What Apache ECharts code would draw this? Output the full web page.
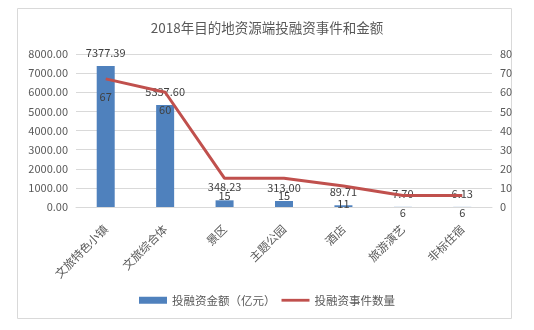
<!DOCTYPE html>
<html><head><meta charset="utf-8">
<script src="https://cdn.jsdelivr.net/npm/echarts@6/dist/echarts.min.js"></script>
<style>html,body{margin:0;padding:0;background:#fff}#c{width:534px;height:330px}</style>
</head><body><div id="c"></div>
<script>
const categories = ['文旅特色小镇','文旅综合体','景区','主题公园','酒店','旅游演艺','非标住宿'];
const amounts = [7377.39, 5337.60, 348.23, 313.00, 89.71, 7.70, 6.13];
const counts = [67, 60, 15, 15, 11, 6, 6];
const leftTicks = {min:0, max:8000, interval:1000};
const rightTicks = {min:0, max:80, interval:10};
const FONT = '"Noto Sans CJK SC", "Microsoft YaHei", sans-serif';
const chart = echarts.init(document.getElementById('c'), null, {renderer:'canvas'});
chart.setOption({
  animation:false,
  textStyle:{fontFamily:FONT},
  graphic:[{type:'rect', shape:{x:17.5,y:8.5,width:494,height:310}, style:{fill:'none', stroke:'#D9D9D9', lineWidth:1}, silent:true}],
  title:{text:'2018年目的地资源端投融资事件和金额', left:'center', top:16, textStyle:{fontSize:13.5, fontWeight:'normal', color:'#595959', fontFamily:FONT}},
  legend:{bottom:19, itemGap:6, itemWidth:28, itemHeight:7, textStyle:{fontSize:11.5, color:'#595959', fontFamily:FONT},
    data:[{name:'投融资金额（亿元）', icon:'rect'}, {name:'投融资事件数量', icon:'path://M0,0 L30,0 L30,3 L0,3 Z', itemStyle:{color:'#C0504D'}}]},
  grid:{left:76, right:42, top:54, bottom:123, containLabel:false},
  xAxis:{type:'category', data:categories, axisLine:{lineStyle:{color:'#D9D9D9'}}, axisTick:{show:false},
    axisLabel:{rotate:45, color:'#595959', fontSize:11.5, margin:20, interval:0, fontFamily:FONT}},
  yAxis:[
    {type:'value', min:leftTicks.min, max:leftTicks.max, interval:leftTicks.interval, axisLine:{show:false}, axisTick:{show:false},
      axisLabel:{color:'#595959', fontSize:11, margin:8, formatter:v=>v.toFixed(2)}, splitLine:{lineStyle:{color:'#D9D9D9'}}},
    {type:'value', min:rightTicks.min, max:rightTicks.max, interval:rightTicks.interval, axisLine:{show:false}, axisTick:{show:false},
      axisLabel:{color:'#595959', fontSize:11, margin:8}, splitLine:{show:false}}
  ],
  series:[
    {name:'投融资金额（亿元）', type:'bar', data:amounts, barWidth:18, itemStyle:{color:'#4F81BD'},
      label:{show:true, position:'top', distance:8, color:'#404040', fontSize:11, formatter:p=>p.value.toFixed(2)}},
    {name:'投融资事件数量', type:'line', yAxisIndex:1, data:counts, symbol:'circle', symbolSize:0, showSymbol:true,
      lineStyle:{color:'#C0504D', width:3}, itemStyle:{color:'#C0504D'},
      label:{show:true, position:'bottom', distance:12, color:'#404040', fontSize:11}}
  ]
});
</script></body></html>
